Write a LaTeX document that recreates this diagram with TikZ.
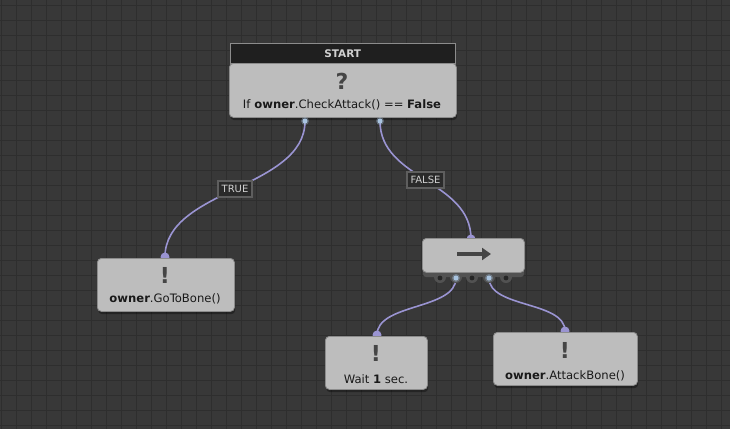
\documentclass[tikz,border=0pt]{standalone}
\usepackage{fontspec}
\setmainfont{DejaVu Sans}
\usetikzlibrary{arrows.meta}
\definecolor{bgc}{HTML}{383838}
\definecolor{gridc}{HTML}{2E2E2E}
\definecolor{nodefill}{HTML}{BDBDBD}
\definecolor{nodeedge}{HTML}{8C8C8C}
\definecolor{hdrfill}{HTML}{1F1F1F}
\definecolor{connc}{HTML}{9A94D2}
\definecolor{portc}{HTML}{A9C4E0}
\definecolor{symc}{HTML}{454545}
\definecolor{lblfill}{HTML}{2A2A2A}
\definecolor{lbledge}{HTML}{5E5E5E}
\definecolor{lbltext}{HTML}{D0D0D0}
\definecolor{bumpc}{HTML}{525252}
\tikzset{
  taskbox/.style={draw=nodeedge, fill=nodefill, rounded corners=4pt, line width=0.8pt, inner sep=0pt, anchor=north west},
  shadowbox/.style={fill=black, opacity=0.35, rounded corners=4pt, draw=none, inner sep=0pt, anchor=north west},
  hdrbox/.style={draw=nodeedge, fill=hdrfill, inner sep=0pt, anchor=north west, text=lbltext, font=\bfseries\fontsize{10.5}{12}\selectfont},
  conn/.style={draw=connc, line width=1.6pt},
  lbl/.style={draw=lbledge, fill=lblfill, text=lbltext, inner xsep=3.5pt, inner ysep=4.5pt, font=\fontsize{10}{11}\selectfont},
  sym/.style={text=symc, font=\bfseries\fontsize{22}{24}\selectfont, inner sep=0pt},
  txt/.style={text=black!90, font=\fontsize{11.6}{13}\selectfont, inner sep=0pt},
  inport/.style={fill=connc, draw=none},
  outport/.style={fill=portc, draw=none},
}
\begin{document}
\begin{tikzpicture}[x=1pt,y=-1pt]
\fill[bgc] (0,0) rectangle (730,429);
\useasboundingbox (0,0) rectangle (730,429);
\foreach \x in {1,16,...,730} \draw[gridc, line width=0.7pt] (\x,0) -- (\x,429);
\foreach \y in {5,20,...,429} \draw[gridc, line width=0.7pt] (0,\y) -- (730,\y);

% port coordinates
\coordinate (rootT) at (305,121);
\coordinate (rootF) at (380,121);
\coordinate (goIn) at (165,257);
\coordinate (seqIn) at (471,239);
\coordinate (seqA) at (456,278);
\coordinate (seqB) at (489,278);
\coordinate (waitIn) at (377,335);
\coordinate (atkIn) at (565,331);

% connectors
\draw[conn] (rootT) .. controls +(0,68) and +(0,-68) .. (goIn) node[pos=0.5, lbl] (ltrue) {TRUE};
\draw[conn] (rootF) .. controls +(0,59) and +(0,-59) .. (seqIn) node[pos=0.5, lbl] (lfalse) {FALSE};
\draw[conn] (seqA) .. controls +(0,32) and +(0,-32) .. (waitIn);
\draw[conn] (seqB) .. controls +(0,30) and +(0,-30) .. (atkIn);

% input ports (half hidden by node)
\foreach \p in {goIn,seqIn,waitIn,atkIn} \fill[inport] (\p) circle (4.5);

% shadows
\node[shadowbox, minimum width=227, minimum height=56] at (230,64) {};
\node[shadowbox, minimum width=137, minimum height=55] at (98,259) {};
\node[shadowbox, minimum width=102, minimum height=55] at (326,337) {};
\node[shadowbox, minimum width=144, minimum height=55] at (494,333) {};

% header
\node[hdrbox, minimum width=225, minimum height=20] (start) at (230,43) {START};

% main condition node
\node[taskbox, minimum width=227, minimum height=54] (root) at (229,63) {};
\node[sym] (rootsym) at (342,81) {?};
\node[txt] (roottxt) at (342,105) {If \textbf{owner}.CheckAttack() == \textbf{False}};

% output ports of root
\foreach \p in {rootT,rootF} {
  \fill[portc, opacity=0.35] (\p) circle (4);
  \fill[outport] (\p) circle (2.5);
}

% GoToBone
\node[taskbox, minimum width=137, minimum height=53] (go) at (97,258) {};
\node[sym] (gosym) at (165,275) {!};
\node[txt] (gotxt) at (165,299) {\textbf{owner}.GoToBone()};

% sequence node
\fill[bumpc, rounded corners=3pt] (423,262) rectangle (524,277);
\foreach \x in {440,456,472,489,506} \fill[bumpc] (\x,277) circle (6);
\node[taskbox, minimum width=102, minimum height=34] (seq) at (422,238) {};
\draw[symc, line width=3.2pt, -{Triangle[length=9pt,width=12pt]}] (457,254) -- (491,254);
\foreach \x in {440,472,506} \fill[black!85] (\x,278) circle (2.4);
\foreach \p in {seqA,seqB} {
  \fill[portc, opacity=0.35] (\p) circle (4);
  \fill[outport] (\p) circle (2.5);
}

% Wait node
\node[taskbox, minimum width=102, minimum height=53] (wait) at (325,336) {};
\node[sym] (waitsym) at (376,353) {!};
\node[txt] (waittxt) at (376,379) {Wait \textbf{1} sec.};

% AttackBone node
\node[taskbox, minimum width=144, minimum height=53] (atk) at (493,332) {};
\node[sym] (atksym) at (565,350) {!};
\node[txt] (atktxt) at (565,376) {\textbf{owner}.AttackBone()};
\end{tikzpicture}
\end{document}
